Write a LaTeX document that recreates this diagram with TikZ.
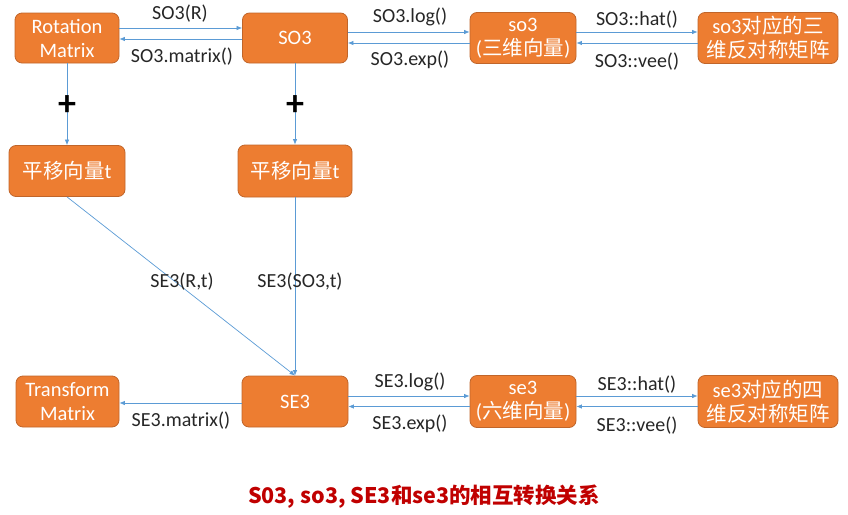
\documentclass[tikz,border=0pt]{standalone}
\usepackage{fontspec}
\setmainfont{Carlito}
\newfontfamily\cjk{Noto Sans CJK SC}
\usetikzlibrary{arrows.meta}
\definecolor{boxor}{HTML}{ED7D31}
\definecolor{boxbd}{HTML}{C0652A}
\definecolor{arr}{HTML}{5B9BD5}
\definecolor{ttl}{HTML}{C00000}
\newcommand\zh[1]{{\cjk #1}}
\begin{document}
\begin{tikzpicture}[x=1pt,y=-1pt,
  box/.style={draw=boxbd, fill=boxor, rounded corners=7pt, text=white, align=center,
    inner sep=0pt, line width=0.8pt, font=\fontsize{20.5}{24}\selectfont},
  conn/.style={draw=arr, line width=0.7pt, -{Latex[length=5.5pt,width=4.5pt]}},
  lbl/.style={font=\fontsize{20}{22}\selectfont, text=black!85, inner sep=0pt},
  plus/.style={font=\fontsize{36}{36}\selectfont\bfseries, inner sep=0pt}]
\useasboundingbox (0,0) rectangle (848,514);
% top row
\node[box, minimum width=104pt, minimum height=50pt] (rot) at (67,38) {Rotation\\Matrix};
\node[box, minimum width=105pt, minimum height=50pt] (so3g) at (295,38) {SO3};
\node[box, minimum width=106pt, minimum height=51pt] (so3a) at (523,38) {so3\\(\zh{三维向量})};
\node[box, minimum width=140pt, minimum height=51pt] (so3m) at (768,38) {so3\zh{对应的三}\\\zh{维反对称矩阵}};
% middle
\node[box, minimum width=116pt, minimum height=51pt] (tl) at (67,171) {\zh{平移向量}t};
\node[box, minimum width=114pt, minimum height=52pt] (tr) at (295,171) {\zh{平移向量}t};
% bottom row
\node[box, minimum width=103pt, minimum height=51pt] (tm) at (67.5,401.5) {Transform\\Matrix};
\node[box, minimum width=106pt, minimum height=51pt] (se3g) at (295,401.5) {SE3};
\node[box, minimum width=106pt, minimum height=52pt] (se3a) at (523,401.5) {se3\\(\zh{六维向量})};
\node[box, minimum width=140pt, minimum height=52pt] (se3m) at (768,401.5) {se3\zh{对应的四}\\\zh{维反对称矩阵}};
% top connectors
\draw[conn] ([yshift=10pt]rot.east) -- ([yshift=10pt]so3g.west);
\draw[conn] ([yshift=-1pt]so3g.west) -- ([yshift=-1pt]rot.east);
\draw[conn] ([yshift=6pt]so3g.east) -- ([yshift=6pt]so3a.west);
\draw[conn] ([yshift=-5pt]so3a.west) -- ([yshift=-5pt]so3g.east);
\draw[conn] ([yshift=6pt]so3a.east) -- ([yshift=6pt]so3m.west);
\draw[conn] ([yshift=-5pt]so3m.west) -- ([yshift=-5pt]so3a.east);
% vertical
\draw[conn] (rot) -- (tl);
\draw[conn] (so3g) -- (tr);
\draw[conn] (tl.south) -- (se3g.north);
\draw[conn] (tr) -- (se3g);
% bottom connectors
\draw[conn] ([yshift=-1.5pt]se3g.west) -- ([yshift=-1.5pt]tm.east);
\draw[conn] ([yshift=5.5pt]se3g.east) -- ([yshift=5.5pt]se3a.west);
\draw[conn] ([yshift=-5pt]se3a.west) -- ([yshift=-5pt]se3g.east);
\draw[conn] ([yshift=5.5pt]se3a.east) -- ([yshift=5.5pt]se3m.west);
\draw[conn] ([yshift=-5pt]se3m.west) -- ([yshift=-5pt]se3a.east);
% plus signs
\node[plus] (p1) at (67,106) {+};
\node[plus] (p2) at (295,106) {+};
% labels
\node[lbl] (l1) at (180,14) {SO3(R)};
\node[lbl] (l2) at (182,57) {SO3.matrix()};
\node[lbl] (l3) at (410,17) {SO3.log()};
\node[lbl] (l4) at (410,60) {SO3.exp()};
\node[lbl] (l5) at (637,20) {SO3::hat()};
\node[lbl] (l6) at (637,62) {SO3::vee()};
\node[lbl] (l7) at (182,282) {SE3(R,t)};
\node[lbl] (l8) at (300,282) {SE3(SO3,t)};
\node[lbl] (l9) at (181,421) {SE3.matrix()};
\node[lbl] (l10) at (410,382) {SE3.log()};
\node[lbl] (l11) at (410,424) {SE3.exp()};
\node[lbl] (l12) at (637,385) {SE3::hat()};
\node[lbl] (l13) at (637,426) {SE3::vee()};
% title
\node[font=\cjk\bfseries\fontsize{21.5}{24}\selectfont, text=ttl, inner sep=0pt] (title) at (424,497) {S03, so3, SE3和se3的相互转换关系};
\end{tikzpicture}
\end{document}
